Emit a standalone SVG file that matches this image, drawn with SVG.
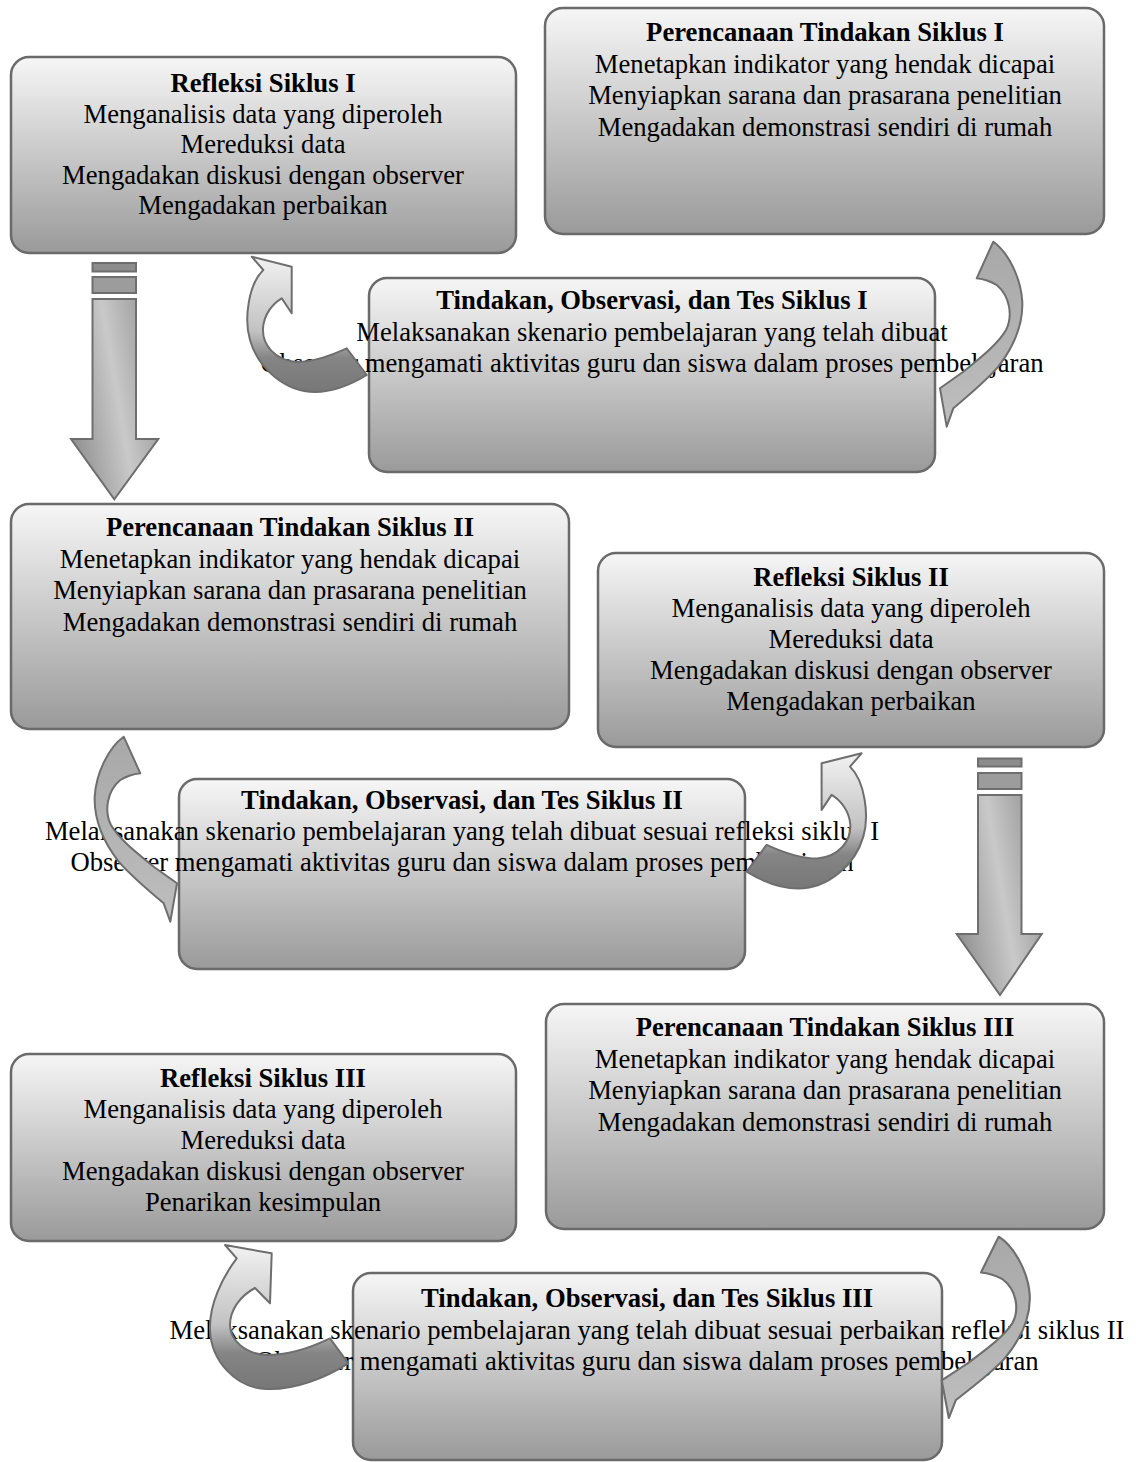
<svg xmlns="http://www.w3.org/2000/svg" width="1136" height="1462" viewBox="0 0 1136 1462">
<style>
.box{fill:url(#boxGrad);stroke:#6a6a6a;stroke-width:2.5}
.t{font-family:"Liberation Serif","Times New Roman",serif;font-size:26.67px;text-anchor:middle;fill:#000}
.b{font-weight:bold}
.ca{fill:url(#gradA);stroke:#6e6e6e;stroke-width:2;stroke-linejoin:round}
.cb{fill:url(#gradB);stroke:#6e6e6e;stroke-width:2;stroke-linejoin:round}
.sa{fill:url(#gradS);stroke:#6e6e6e;stroke-width:2}
.bar1{fill:#8c8c8c;stroke:#6e6e6e;stroke-width:2}
.bar2{fill:#9c9c9c;stroke:#6e6e6e;stroke-width:2}
</style>
<defs>
<linearGradient id="boxGrad" x1="0" y1="0" x2="0" y2="1">
<stop offset="0" stop-color="#f6f6f6"/>
<stop offset="1" stop-color="#9a9a9a"/>
</linearGradient>
<linearGradient id="gradA" x1="0" y1="0" x2="0" y2="1">
<stop offset="0" stop-color="#f2f2f2"/>
<stop offset="0.55" stop-color="#c2c2c2"/>
<stop offset="0.75" stop-color="#858585"/>
<stop offset="1" stop-color="#777777"/>
</linearGradient>
<linearGradient id="gradB" x1="0" y1="0" x2="0" y2="1">
<stop offset="0" stop-color="#a8a8a8"/>
<stop offset="1" stop-color="#bebebe"/>
</linearGradient>
<linearGradient id="gradS" x1="0" y1="0.6" x2="1" y2="0.2">
<stop offset="0" stop-color="#939393"/>
<stop offset="0.5" stop-color="#c9c9c9"/>
<stop offset="1" stop-color="#939393"/>
</linearGradient>
<path id="arrowA" d="M291.7,266.7 L251.7,256.7 L263.3,270 C248,285 244,320 250,340 C258,368 285,392 315,392 C335,392 352,384 366.7,375 L346.7,348.3 C330,356 312,362 296,362 C275,360 262,345 263,328 C264,315 272,304 281.7,298.3 L291.7,313.3 Z"/>
<path id="arrowB" d="M976.7,278.3 L993.3,241.7 C1008,252 1021,278 1022.3,301.7 C1023,322 1015,345 998.3,366.7 C985,382 968,396 953.3,408.3 L946.7,426.7 L940,388.3 L963.3,371.7 C980,358 998,344 1006,330 C1013,316 1010,296 996.7,285 C990,281 983,279 976.7,278.3 Z"/>
</defs>

<g id="refleksi1">
<rect class="box" x="11" y="57" width="505" height="196" rx="18"/>
<text class="t b" x="263" y="92">Refleksi Siklus I</text>
<text class="t" x="263" y="122.5">Menganalisis data yang diperoleh</text>
<text class="t" x="263" y="153">Mereduksi data</text>
<text class="t" x="263" y="183.5">Mengadakan diskusi dengan observer</text>
<text class="t" x="263" y="214">Mengadakan perbaikan</text>
</g>

<g id="perencanaan1">
<rect class="box" x="545" y="8" width="559" height="226" rx="18"/>
<text class="t b" x="825" y="41">Perencanaan Tindakan Siklus I</text>
<text class="t" x="825" y="72.5">Menetapkan indikator yang hendak dicapai</text>
<text class="t" x="825" y="104">Menyiapkan sarana dan prasarana penelitian</text>
<text class="t" x="825" y="135.5">Mengadakan demonstrasi sendiri di rumah</text>
</g>

<g id="tindakan1">
<rect class="box" x="369" y="278" width="566" height="194" rx="18"/>
<text class="t b" x="652" y="309">Tindakan, Observasi, dan Tes Siklus I</text>
<text class="t" x="652" y="340.5">Melaksanakan skenario pembelajaran yang telah dibuat</text>
<text class="t" x="652" y="372">Observer mengamati aktivitas guru dan siswa dalam proses pembelajaran</text>
</g>

<g id="perencanaan2">
<rect class="box" x="11" y="504" width="558" height="225" rx="18"/>
<text class="t b" x="290" y="536">Perencanaan Tindakan Siklus II</text>
<text class="t" x="290" y="567.5">Menetapkan indikator yang hendak dicapai</text>
<text class="t" x="290" y="599">Menyiapkan sarana dan prasarana penelitian</text>
<text class="t" x="290" y="630.5">Mengadakan demonstrasi sendiri di rumah</text>
</g>

<g id="refleksi2">
<rect class="box" x="598" y="553" width="506" height="194" rx="18"/>
<text class="t b" x="851" y="586">Refleksi Siklus II</text>
<text class="t" x="851" y="617">Menganalisis data yang diperoleh</text>
<text class="t" x="851" y="648">Mereduksi data</text>
<text class="t" x="851" y="679">Mengadakan diskusi dengan observer</text>
<text class="t" x="851" y="710">Mengadakan perbaikan</text>
</g>

<g id="tindakan2">
<rect class="box" x="179" y="779" width="566" height="190" rx="18"/>
<text class="t b" x="462" y="809">Tindakan, Observasi, dan Tes Siklus II</text>
<text class="t" x="462" y="840">Melaksanakan skenario pembelajaran yang telah dibuat sesuai refleksi siklus I</text>
<text class="t" x="462" y="871">Observer mengamati aktivitas guru dan siswa dalam proses pembelajaran</text>
</g>

<g id="perencanaan3">
<rect class="box" x="546" y="1004" width="558" height="225" rx="18"/>
<text class="t b" x="825" y="1036">Perencanaan Tindakan Siklus III</text>
<text class="t" x="825" y="1067.5">Menetapkan indikator yang hendak dicapai</text>
<text class="t" x="825" y="1099">Menyiapkan sarana dan prasarana penelitian</text>
<text class="t" x="825" y="1130.5">Mengadakan demonstrasi sendiri di rumah</text>
</g>

<g id="refleksi3">
<rect class="box" x="11" y="1054" width="505" height="187" rx="18"/>
<text class="t b" x="263" y="1087">Refleksi Siklus III</text>
<text class="t" x="263" y="1118">Menganalisis data yang diperoleh</text>
<text class="t" x="263" y="1149">Mereduksi data</text>
<text class="t" x="263" y="1180">Mengadakan diskusi dengan observer</text>
<text class="t" x="263" y="1211">Penarikan kesimpulan</text>
</g>

<g id="tindakan3">
<rect class="box" x="353" y="1273" width="589" height="187" rx="18"/>
<text class="t b" x="647" y="1307">Tindakan, Observasi, dan Tes Siklus III</text>
<text class="t" x="647" y="1338.5">Melaksanakan skenario pembelajaran yang telah dibuat sesuai perbaikan refleksi siklus II</text>
<text class="t" x="647" y="1370">Observer mengamati aktivitas guru dan siswa dalam proses pembelajaran</text>
</g>

<g id="connectors">
<!-- Perencanaan I -> Tindakan I -->
<use href="#arrowB" class="cb"/>
<!-- Tindakan I -> Refleksi I -->
<use href="#arrowA" class="ca"/>
<!-- Refleksi I -> Perencanaan II -->
<g id="down1">
<rect class="bar1" x="92.5" y="263" width="43.5" height="8.5"/>
<rect class="bar2" x="92.5" y="277" width="43.5" height="16"/>
<path class="sa" d="M92.5,299 L136,299 L136,439 L158.3,439 L114.3,499.3 L71,439 L92.5,439 Z"/>
</g>
<!-- Perencanaan II -> Tindakan II -->
<use href="#arrowB" class="cb" transform="matrix(-1 0 0 1 1117 495)"/>
<!-- Tindakan II -> Refleksi II -->
<use href="#arrowA" class="ca" transform="matrix(-1 0 0 1 1113.3 496.6)"/>
<!-- Refleksi II -> Perencanaan III -->
<g id="down2">
<rect class="bar1" x="978" y="758.5" width="43.5" height="8"/>
<rect class="bar2" x="978" y="773" width="43.5" height="16"/>
<path class="sa" d="M978,795 L1021.5,795 L1021.5,934 L1041.7,934 L1000,995 L956.7,934 L978,934 Z"/>
</g>
<!-- Perencanaan III -> Tindakan III -->
<use href="#arrowB" class="cb" transform="matrix(1.07 0 0 0.98 -64.1 999.8)"/>
<!-- Tindakan III -> Refleksi III -->
<path class="ca" d="M271.7,1253.3 L225,1245 L236.7,1258.3 C222,1278 209,1305 210,1330 C211,1360 235,1388 266.7,1389 C295,1390 325,1378 348.3,1363.3 L330,1338.3 C312,1347 290,1355 266.7,1355 C245,1354 230,1340 230,1325 C230,1310 240,1296 255,1288 L270,1303.3 Z"/>
</g>
</svg>
